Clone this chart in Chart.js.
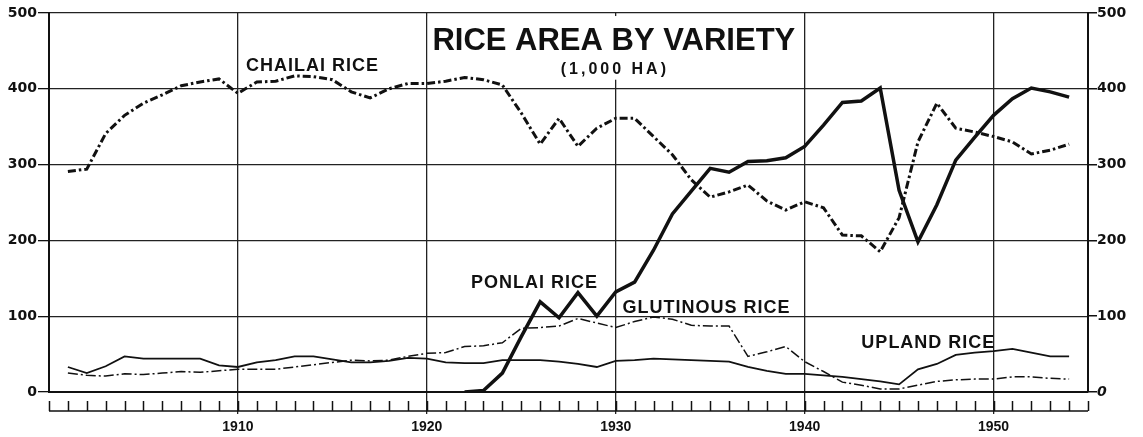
<!DOCTYPE html>
<html>
<head>
<meta charset="utf-8">
<title>Rice Area by Variety</title>
<script src="https://cdn.jsdelivr.net/npm/chart.js@4.4.1/dist/chart.umd.min.js"></script>
<style>
    html, body { margin: 0; padding: 0; background: #ffffff; }
    #wrap { position: relative; width: 1143px; height: 437px; }
</style>
</head>
<body>
<div id="wrap"><canvas id="riceChart"></canvas></div>
<script>
// Years plotted (1,000 ha per year)
const years = [
    1901, 1902, 1903, 1904, 1905, 1906, 1907, 1908, 1909, 1910,
    1911, 1912, 1913, 1914, 1915, 1916, 1917, 1918, 1919, 1920,
    1921, 1922, 1923, 1924, 1925, 1926, 1927, 1928, 1929, 1930,
    1931, 1932, 1933, 1934, 1935, 1936, 1937, 1938, 1939, 1940,
    1941, 1942, 1943, 1944, 1945, 1946, 1947, 1948, 1949, 1950,
    1951, 1952, 1953, 1954
];

const chailai = [
    291, 294, 341, 365, 381, 392, 404, 409, 413, 394,
    409, 410, 417, 416, 412, 396, 388, 400, 407, 407,
    410, 415, 412, 405, 368, 327, 361, 324, 348, 361,
    361, 337, 313, 280, 257, 264, 273, 252, 240, 251,
    243, 207, 206, 185, 230, 330, 381, 348, 343, 337,
    330, 314, 319, 327
];

const ponlai = [
    null, null, null, null, null, null, null, null, null, null,
    null, null, null, null, null, null, null, null, null, null,
    null, 0, 2, 25, 73, 119, 98, 131, 100, 132,
    145, 187, 235, 265, 295, 290, 304, 305, 309, 324,
    352, 382, 384, 401, 266, 198, 247, 306, 336, 365,
    387, 401, 396, 389
];

const glutinous = [
    25, 22, 21, 24, 23, 25, 27, 26, 28, 30,
    30, 30, 33, 36, 39, 42, 41, 42, 47, 51,
    52, 60, 61, 65, 84, 85, 87, 97, 91, 85,
    93, 99, 96, 88, 87, 87, 47, 53, 60, 40,
    27, 13, 9, 4, 4, 9, 14, 16, 17, 17,
    20, 20, 18, 17
];

const upland = [
    33, 25, 34, 47, 44, 44, 44, 44, 35, 33,
    39, 42, 47, 47, 43, 39, 39, 41, 45, 44,
    39, 38, 38, 42, 42, 42, 40, 37, 33, 41,
    42, 44, 43, 42, 41, 40, 33, 28, 24, 24,
    22, 20, 17, 14, 10, 30, 37, 49, 52, 54,
    57, 52, 47, 47
];

// Axis ranges and labelled ticks
const xMin = 1900;
const xMax = 1955;
const tickYears = [1910, 1920, 1930, 1940, 1950];
const yMin = 0;
const yMax = 500;
const yStep = 100;

const seriesNames = ['CHAILAI RICE', 'PONLAI RICE', 'GLUTINOUS RICE', 'UPLAND RICE'];
const titleText = 'RICE AREA BY VARIETY';
const subtitleText = '(1,000 HA)';

// Where the hand-lettered labels sit, in data units (year, 1,000 ha)
const labelSpots = [
    { text: seriesNames[0], x: 1913.95, y: 430 },
    { text: seriesNames[1], x: 1925.7, y: 144 },
    { text: seriesNames[2], x: 1934.8, y: 111 },
    { text: seriesNames[3], x: 1946.55, y: 65 }
];

function toPoints(values) {
    return years.map((yr, i) => ({ x: yr, y: values[i] }));
}

// Title, subtitle and series labels drawn onto the plot
const labelsPlugin = {
    id: 'riceLabels',
    beforeDatasetsDraw(chart) {
        const { ctx } = chart;
        const x = chart.scales.x;
        const y = chart.scales.y;
        const cx = x.getPixelForValue(1929.9);

        // white panel so the grid breaks behind the title
        ctx.save();
        ctx.fillStyle = '#ffffff';
        const top = y.getPixelForValue(496);
        const bottom = y.getPixelForValue(412);
        ctx.fillRect(cx - 186, top, 372, bottom - top);
        ctx.restore();
    },
    afterDatasetsDraw(chart) {
        const { ctx } = chart;
        const x = chart.scales.x;
        const y = chart.scales.y;
        const cx = x.getPixelForValue(1929.9);

        ctx.save();
        ctx.fillStyle = '#111111';
        ctx.textAlign = 'center';
        ctx.textBaseline = 'middle';

        ctx.font = 'bold 31px "Liberation Sans", Arial, sans-serif';
        ctx.letterSpacing = '0px';
        ctx.fillText(titleText, cx, y.getPixelForValue(463));

        ctx.font = 'bold 16px "Liberation Sans", Arial, sans-serif';
        ctx.letterSpacing = '3px';
        ctx.fillText(subtitleText, cx + 1, y.getPixelForValue(425));

        ctx.font = 'bold 18px "Liberation Sans", Arial, sans-serif';
        ctx.letterSpacing = '1px';
        labelSpots.forEach(spot => {
            ctx.fillText(spot.text, x.getPixelForValue(spot.x), y.getPixelForValue(spot.y));
        });
        ctx.restore();
    }
};

// Yearly ruler under the zero line
const rulerPlugin = {
    id: 'yearRuler',
    afterDraw(chart) {
        const { ctx, chartArea } = chart;
        const x = chart.scales.x;
        const base = chartArea.bottom + 19;
        ctx.save();
        ctx.strokeStyle = '#111111';
        ctx.lineWidth = 1.5;
        ctx.beginPath();
        ctx.moveTo(x.getPixelForValue(xMin), base);
        ctx.lineTo(x.getPixelForValue(xMax), base);
        for (let yr = xMin; yr <= xMax; yr++) {
            const px = Math.round(x.getPixelForValue(yr)) + 0.5;
            ctx.moveTo(px, base);
            ctx.lineTo(px, base - 10);
        }
        ctx.stroke();
        ctx.restore();
    }
};

function initRiceChart() {
    const ctx = document.getElementById('riceChart').getContext('2d');

    new Chart(ctx, {
        type: 'line',
        data: {
            datasets: [
                {
                    label: seriesNames[0],
                    data: toPoints(chailai),
                    borderColor: '#111111',
                    borderWidth: 3,
                    borderDash: [8, 3, 2.5, 3]
                },
                {
                    label: seriesNames[1],
                    data: toPoints(ponlai),
                    borderColor: '#111111',
                    borderWidth: 3.5
                },
                {
                    label: seriesNames[2],
                    data: toPoints(glutinous),
                    borderColor: '#111111',
                    borderWidth: 1.5,
                    borderDash: [10, 3, 2, 3]
                },
                {
                    label: seriesNames[3],
                    data: toPoints(upland),
                    borderColor: '#111111',
                    borderWidth: 1.8
                }
            ]
        },
        options: {
            responsive: true,
            maintainAspectRatio: false,
            animation: false,
            layout: { padding: { top: 13, left: 0, right: 0, bottom: 0 } },
            elements: {
                point: { radius: 0 },
                line: { tension: 0, fill: false }
            },
            plugins: {
                legend: { display: false },
                tooltip: { enabled: false }
            },
            scales: {
                x: {
                    type: 'linear',
                    min: xMin,
                    max: xMax,
                    afterBuildTicks: scale => {
                        scale.ticks = tickYears.map(v => ({ value: v }));
                    },
                    afterFit: scale => { scale.height = 45; },
                    grid: {
                        color: '#222222',
                        lineWidth: 1.3,
                        tickLength: 22,
                        tickColor: '#222222'
                    },
                    border: { display: true, color: '#111111', width: 2 },
                    ticks: {
                        color: '#111111',
                        padding: 5,
                        maxRotation: 0,
                        font: { family: '"Liberation Sans", Arial, sans-serif', weight: 'bold', size: 14 },
                        callback: v => String(v)
                    }
                },
                y: {
                    min: yMin,
                    max: yMax,
                    position: 'left',
                    afterFit: scale => { scale.width = 49; },
                    grid: {
                        color: '#222222',
                        lineWidth: 1.3,
                        tickLength: 11,
                        tickColor: '#111111'
                    },
                    border: { display: true, color: '#111111', width: 2 },
                    ticks: {
                        stepSize: yStep,
                        color: '#111111',
                        padding: 1,
                        font: { family: '"DejaVu Sans", sans-serif', weight: 'bold', size: 14 }
                    }
                },
                y2: {
                    min: yMin,
                    max: yMax,
                    position: 'right',
                    afterFit: scale => { scale.width = 55; },
                    grid: {
                        drawOnChartArea: false,
                        tickLength: 9,
                        tickColor: '#111111',
                        lineWidth: 1.5
                    },
                    border: { display: true, color: '#111111', width: 2 },
                    ticks: {
                        stepSize: yStep,
                        color: '#111111',
                        padding: 0,
                        font: ctx => ({
                            family: '"DejaVu Sans", sans-serif',
                            weight: 'bold',
                            size: 14,
                            style: ctx.tick && ctx.tick.value === 0 ? 'italic' : 'normal'
                        })
                    }
                }
            }
        },
        plugins: [labelsPlugin, rulerPlugin]
    });
}

document.addEventListener('DOMContentLoaded', () => {
    initRiceChart();
});
</script>
</body>
</html>
